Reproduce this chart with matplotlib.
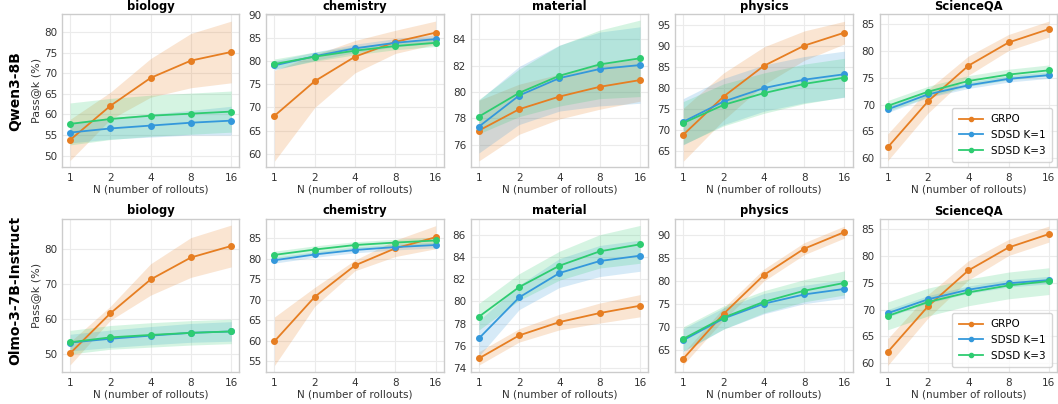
import numpy as np
import matplotlib
matplotlib.use("Agg")
import matplotlib.pyplot as plt
from matplotlib.ticker import MultipleLocator

# rollouts and panels
n_rollouts = [1, 2, 4, 8, 16]
datasets = ["biology", "chemistry", "material", "physics", "ScienceQA"]
models = ["Qwen3-8B", "Olmo-3-7B-Instruct"]
methods = ["GRPO", "SDSD K=1", "SDSD K=3"]
colors = ["#e67e22", "#3498db", "#2ecc71"]

# Qwen3-8B: mean pass@k and band half-width, per dataset
qwen_grpo = [[53.8, 62.1, 68.9, 73.1, 75.2],
             [68.2, 75.7, 81.0, 84.2, 86.2],
             [77.07, 78.69, 79.65, 80.39, 80.90],
             [68.9, 78.0, 85.3, 90.1, 93.2],
             [62.0, 70.6, 77.25, 81.6, 84.1]]
qwen_grpo_sd = [[5.0, 3.3, 4.7, 6.6, 7.5],
                [9.8, 5.7, 3.5, 2.5, 2.5],
                [2.3, 1.9, 1.7, 1.7, 1.6],
                [6.3, 5.6, 4.5, 3.5, 2.7],
                [2.5, 2.2, 1.8, 1.5, 1.5]]
qwen_k1 = [[55.6, 56.6, 57.3, 58.0, 58.5],
           [79.1, 81.1, 82.8, 84.0, 84.8],
           [77.37, 79.73, 81.05, 81.74, 82.04],
           [72.0, 76.8, 80.0, 82.0, 83.3],
           [69.1, 71.9, 73.6, 74.8, 75.5]]
qwen_k1_sd = [[2.5, 2.6, 2.8, 3.0, 3.5],
              [1.0, 0.9, 0.9, 0.9, 0.9],
              [2.0, 2.2, 2.5, 2.8, 2.9],
              [5.5, 5.5, 5.5, 5.5, 5.5],
              [0.6, 0.6, 0.6, 0.6, 0.6]]
qwen_k3 = [[57.7, 58.9, 59.7, 60.2, 60.7],
           [79.4, 81.0, 82.3, 83.3, 84.0],
           [78.13, 79.93, 81.23, 82.09, 82.55],
           [71.7, 76.0, 78.8, 81.0, 82.5],
           [69.75, 72.4, 74.4, 75.6, 76.4]]
qwen_k3_sd = [[5.1, 5.0, 5.0, 5.0, 5.0],
              [1.1, 1.0, 0.9, 0.8, 0.8],
              [1.3, 1.8, 2.3, 2.6, 2.9],
              [5.1, 5.0, 4.8, 4.7, 4.6],
              [1.0, 1.0, 1.0, 1.0, 1.0]]

# Olmo-3-7B-Instruct
olmo_grpo = [[50.1, 61.6, 71.3, 77.6, 80.9],
             [59.9, 70.7, 78.35, 82.5, 85.2],
             [74.87, 76.94, 78.14, 78.95, 79.61],
             [63.2, 72.9, 81.3, 87.0, 90.6],
             [62.05, 70.6, 77.3, 81.6, 84.1]]
olmo_grpo_sd = [[3.3, 2.0, 4.5, 5.7, 6.0],
                [5.9, 2.3, 1.3, 2.0, 2.8],
                [0.6, 0.6, 0.7, 0.9, 1.0],
                [1.3, 1.3, 1.3, 1.3, 1.3],
                [2.5, 2.2, 1.8, 1.5, 1.5]]
olmo_k1 = [[53.2, 54.3, 55.2, 56.0, 56.4],
           [79.6, 81.0, 82.1, 82.8, 83.3],
           [76.67, 80.36, 82.55, 83.63, 84.11],
           [67.2, 71.9, 75.1, 77.1, 78.3],
           [69.3, 71.9, 73.7, 74.9, 75.5]]
olmo_k1_sd = [[2.4, 2.5, 2.6, 2.7, 2.8],
              [0.7, 0.7, 0.7, 0.7, 0.7],
              [1.6, 1.1, 1.3, 1.4, 1.4],
              [2.5, 2.3, 2.2, 2.0, 2.0],
              [0.7, 0.7, 0.7, 0.7, 0.7]]
olmo_k3 = [[53.3, 54.7, 55.4, 56.0, 56.4],
           [80.9, 82.2, 83.3, 83.9, 84.4],
           [78.62, 81.29, 83.21, 84.5, 85.13],
           [67.5, 72.1, 75.5, 77.9, 79.6],
           [68.8, 71.4, 73.2, 74.5, 75.3]]
olmo_k3_sd = [[3.4, 3.4, 3.5, 3.5, 3.5],
              [0.9, 0.9, 0.8, 0.8, 0.8],
              [1.2, 1.2, 1.3, 1.5, 1.7],
              [2.6, 2.5, 2.4, 2.4, 2.6],
              [2.6, 2.6, 2.5, 2.5, 2.5]]

ylims = [[(47.2, 84.4), (57.1, 90.2), (74.3, 85.9), (61.2, 97.6), (58.3, 86.9)],
         [(44.75, 88.6), (52.4, 89.6), (73.64, 87.4), (60.3, 93.4), (58.3, 86.9)]]
ysteps = [[5, 5, 2, 5, 5], [10, 5, 2, 5, 5]]

means = [[qwen_grpo, qwen_k1, qwen_k3], [olmo_grpo, olmo_k1, olmo_k3]]
sds = [[qwen_grpo_sd, qwen_k1_sd, qwen_k3_sd], [olmo_grpo_sd, olmo_k1_sd, olmo_k3_sd]]

plt.rcParams["font.family"] = "DejaVu Sans"
plt.rcParams["axes.edgecolor"] = "#cccccc"
plt.rcParams["axes.linewidth"] = 1.0

fig, axes = plt.subplots(2, 5, figsize=(10.58, 4.04), dpi=100)
fig.subplots_adjust(left=0.0586, right=0.999, top=0.965, bottom=0.079,
                    wspace=0.153, hspace=0.34)

x = np.log2(n_rollouts)
for r in range(2):
    for c in range(5):
        ax = axes[r, c]
        ax.set_facecolor("white")
        ax.grid(True, color="#ebebeb", linewidth=0.8)
        ax.set_axisbelow(True)
        for m in range(3):
            mu = np.array(means[r][m][c])
            sd = np.array(sds[r][m][c])
            ax.fill_between(x, mu - sd, mu + sd, color=colors[m], alpha=0.2,
                            linewidth=0)
            ax.plot(x, mu, color=colors[m], marker="o", markersize=4,
                    linewidth=1.3, label=methods[m])
        ax.set_xlim(-0.2, 4.2)
        ax.set_xticks(x)
        ax.set_xticklabels([str(n) for n in n_rollouts])
        ax.set_ylim(*ylims[r][c])
        ax.yaxis.set_major_locator(MultipleLocator(ysteps[r][c]))
        ax.tick_params(length=0, labelsize=7.5, labelcolor="#333333")
        ax.tick_params(axis="x", pad=4)
        ax.set_title(datasets[c], fontsize=8.3, fontweight="bold",
                     pad=3 if r == 0 else 3.5)
        ax.set_xlabel("N (number of rollouts)", fontsize=7.5, color="#333333",
                      labelpad=1.5)
        if c == 4:
            ax.legend(loc="lower right", fontsize=7.5, frameon=True,
                      edgecolor="#cccccc", handlelength=2.3, markerscale=0.75,
                      borderpad=0.6, labelspacing=0.55)
    axes[r, 0].set_ylabel("Pass@k (%)", fontsize=8, color="#333333",
                          labelpad=2)

fig.text(0.014, 0.775, models[0], rotation=90, ha="center", va="center",
         fontsize=10, fontweight="bold")
fig.text(0.014, 0.28, models[1], rotation=90, ha="center", va="center",
         fontsize=10, fontweight="bold")

fig.savefig("out.png", dpi=100)
